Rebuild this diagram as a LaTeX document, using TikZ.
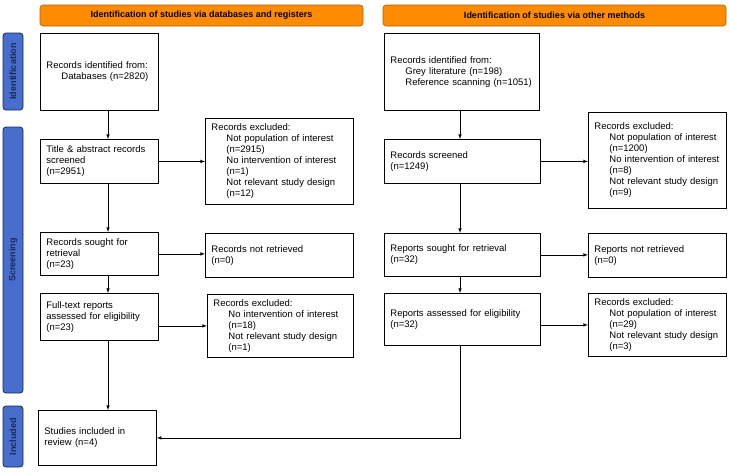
\documentclass[tikz,border=0pt]{standalone}
\usepackage{fontspec}
\setmainfont{Liberation Sans}
\usepackage{tikz}
\usepackage{xcolor}
\tikzset{>=latex}
\usetikzlibrary{calc}

\definecolor{hdrorange}{RGB}{255,140,0}
\definecolor{hdredge}{RGB}{170,95,10}
\definecolor{barblue}{RGB}{72,110,205}
\definecolor{baredge}{RGB}{25,40,85}
\newcommand{\subind}{\hspace*{15pt}}
\newcommand{\nohyph}{\hyphenpenalty=10000\relax}

\tikzset{
  box/.style={draw, line width=0.8pt, anchor=north west, align=left,
    inner xsep=6pt, inner ysep=2pt,
    font=\fontsize{9.5}{11}\selectfont\nohyph},
  hdr/.style={draw=hdredge, fill=hdrorange, rounded corners=3pt, line width=0.6pt},
  sidebar/.style={draw=baredge, fill=barblue, rounded corners=3pt, line width=0.8pt},
  flow/.style={->, line width=0.6pt}
}

\begin{document}
\begin{tikzpicture}[x=1pt, y=-1pt]
      \useasboundingbox (0,0) rectangle (730,472);
      % headers
      \draw[hdr] (40,5) rectangle (363,26);
      \node[font=\fontsize{9}{11}\selectfont\bfseries] (h1) at (201.5,15.5) {Identification of studies via databases and registers};
      \draw[hdr] (383,5) rectangle (726,26);
      \node[font=\fontsize{9}{11}\selectfont\bfseries] (h2) at (554.5,15.5) {Identification of studies via other methods};
      % side bars
      \draw[sidebar] (3,33) rectangle (23,110);
      \node[rotate=90, font=\fontsize{9}{11}\selectfont\bfseries, text=baredge] (s1) at (13,71.5) {Identification};
      \draw[sidebar] (3,127) rectangle (23,393);
      \node[rotate=90, font=\fontsize{9}{11}\selectfont\bfseries, text=baredge] (s2) at (13,260) {Screening};
      \draw[sidebar] (3,406) rectangle (23,467);
      \node[rotate=90, font=\fontsize{9}{11}\selectfont\bfseries, text=baredge] (s3) at (13,436.5) {Included};
      % databases column
      \node[box, text width=106pt, minimum height=77pt] (L1) at (40,33) {Records identified from:\\\subind Databases (n=2820)};
      \node[box, text width=106pt, minimum height=44pt] (L2) at (40,139) {Title \& abstract records\\screened\\(n=2951)};
      \node[box, text width=106pt, minimum height=43pt] (L3) at (40,232) {Records sought for\\retrieval\\(n=23)};
      \node[box, text width=106pt, minimum height=47pt] (L4) at (40,293) {Full-text reports\\assessed for eligibility\\(n=23)};
      \node[box, text width=106pt, minimum height=55pt] (L5) at (38,410) {Studies included in\\review (n=4)};
      \node[box, text width=136pt, minimum height=86pt] (E1) at (205,118) {Records excluded:\\\subind Not population of interest\\\subind (n=2915)\\\subind No intervention of interest\\\subind (n=1)\\\subind Not relevant study design\\\subind (n=12)};
      \node[box, text width=136pt, minimum height=44pt] (E2) at (205,233) {Records not retrieved\\(n=0)};
      \node[box, text width=134pt, minimum height=63pt] (E3) at (207,294) {Records excluded:\\\subind No intervention of interest\\\subind (n=18)\\\subind Not relevant study design\\\subind (n=1)};
      % other methods column
      \node[box, text width=143pt, minimum height=77pt] (R1) at (384,33) {Records identified from:\\\subind Grey literature (n=198)\\\subind Reference scanning (n=1051)};
      \node[box, text width=144pt, minimum height=44pt] (R2) at (384,139) {Records screened\\(n=1249)};
      \node[box, text width=144pt, minimum height=43pt] (R3) at (384,233) {Reports sought for retrieval\\(n=32)};
      \node[box, text width=144pt, minimum height=52pt] (R4) at (384,293) {Reports assessed for eligibility\\(n=32)};
      \node[box, text width=126pt, minimum height=96pt] (F1) at (588,112) {Records excluded:\\\subind Not population of interest\\\subind (n=1200)\\\subind No intervention of interest\\\subind (n=8)\\\subind Not relevant study design\\\subind (n=9)};
      \node[box, text width=126pt, minimum height=44pt] (F2) at (588,233) {Reports not retrieved\\(n=0)};
      \node[box, text width=126pt, minimum height=63pt] (F3) at (588,293) {Records excluded:\\\subind Not population of interest\\\subind (n=29)\\\subind Not relevant study design\\\subind (n=3)};
      % connectors
      \coordinate (lx) at (108,0);
      \coordinate (rx) at (460,0);
      \draw[flow] (L1.south -| lx) -- (L2.north -| lx);
      \draw[flow] (L2.south -| lx) -- (L3.north -| lx);
      \draw[flow] (L3.south -| lx) -- (L4.north -| lx);
      \draw[flow] (L4.south -| lx) -- (L5.north -| lx);
      \draw[flow] (L2.east) -- (L2.east -| E1.west);
      \draw[flow] (L3.east) -- (L3.east -| E2.west);
      \draw[flow] (L4.east |- E3.west) -- (E3.west);
      \draw[flow] (R1.south -| rx) -- (R2.north -| rx);
      \draw[flow] (R2.south -| rx) -- (R3.north -| rx);
      \draw[flow] (R3.south -| rx) -- (R4.north -| rx);
      \draw[flow] (R2.east) -- (R2.east -| F1.west);
      \draw[flow] (R3.east) -- (R3.east -| F2.west);
      \draw[flow] (R4.east |- F3.west) -- (F3.west);
      \draw[flow] (R4.south -| rx) |- (L5.east);
    \end{tikzpicture}
\end{document}
